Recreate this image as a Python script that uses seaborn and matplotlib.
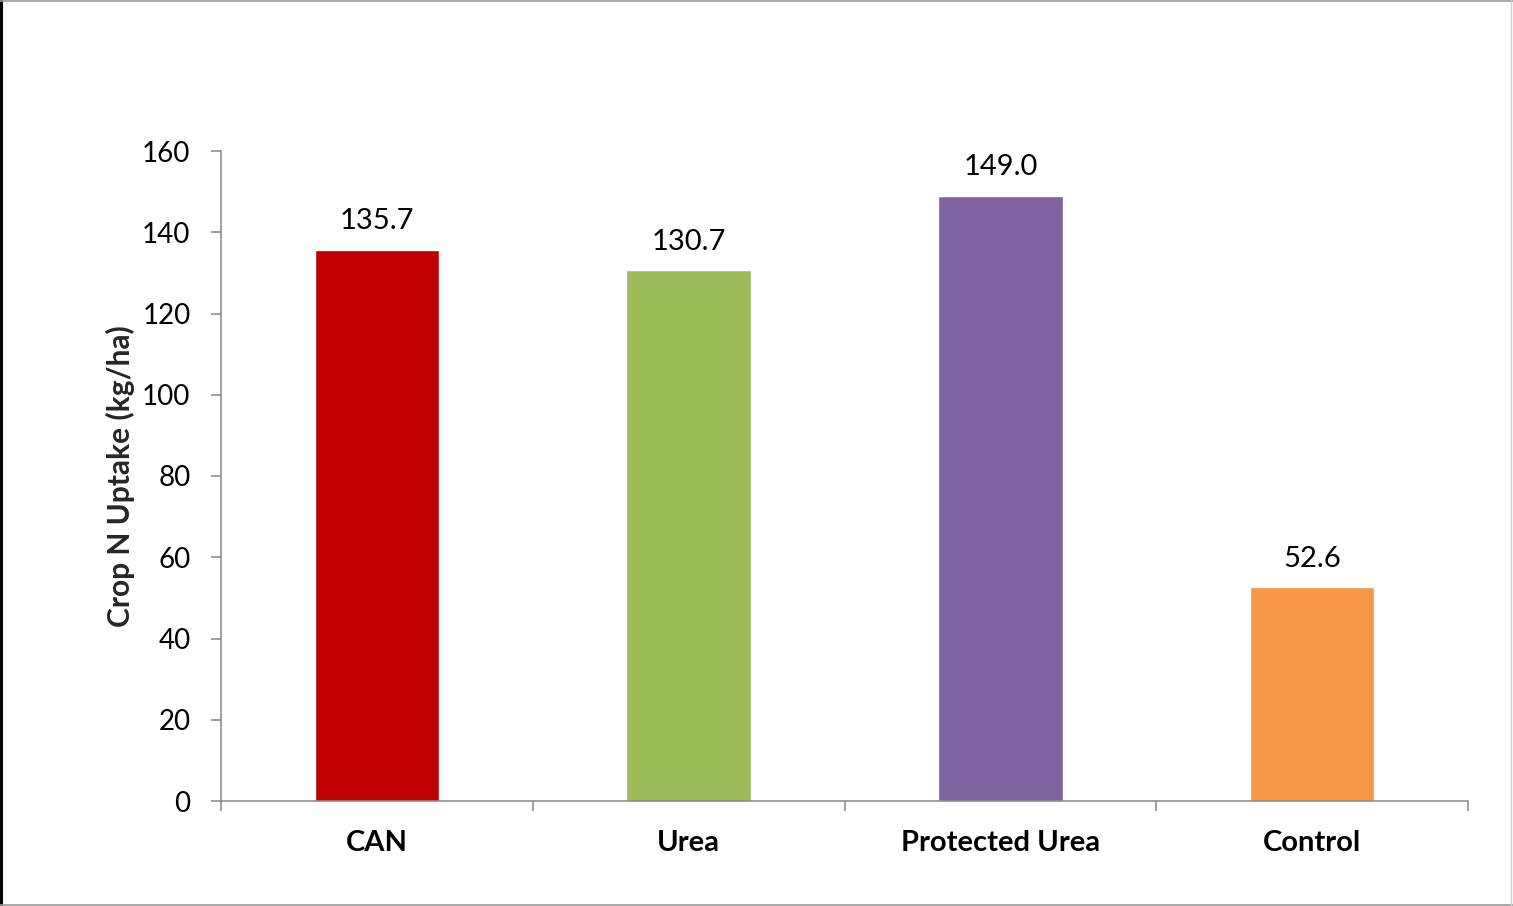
import matplotlib
matplotlib.use("Agg")
import matplotlib.pyplot as plt
import seaborn as sns
import pandas as pd
from matplotlib.lines import Line2D

# Crop N uptake by fertiliser treatment
treatments = ["CAN", "Urea", "Protected Urea", "Control"]
uptake = [135.7, 130.7, 149.0, 52.6]
bar_colors = ["#C00000", "#9BBB59", "#8064A2", "#F79646"]
y_ticks = [0, 20, 40, 60, 80, 100, 120, 140, 160]

sns.set_theme(style="white")
plt.rcParams["font.family"] = ["Lato", "DejaVu Sans"]

df = pd.DataFrame({"treatment": treatments, "uptake": uptake})

fig = plt.figure(figsize=(15.13, 9.06), dpi=100)
ax = fig.add_axes([221 / 1513, 1 - 801 / 906, (1468 - 221) / 1513, (801 - 151) / 906])

sns.barplot(data=df, x="treatment", y="uptake", hue="treatment",
            palette=bar_colors, width=0.4, saturation=1, legend=False, ax=ax)

axis_gray = "#868686"
ax.set_ylim(0, 160)
ax.set_xlim(-0.5, len(treatments) - 0.5)
ax.set_yticks(y_ticks)
ax.set_yticklabels([str(v) for v in y_ticks], fontsize=20)
ax.set_xticks(range(len(treatments)))
ax.set_xticklabels(treatments, fontsize=21, fontweight="bold")
ax.set_xticks([i - 0.5 for i in range(len(treatments) + 1)], minor=True)
ax.tick_params(axis="x", which="major", bottom=True, length=0, pad=21, labelcolor="black")
ax.tick_params(axis="x", which="minor", bottom=True, length=7, width=1.1,
               color=axis_gray, direction="out")
ax.tick_params(axis="y", which="major", left=True, length=7, width=1.1, color=axis_gray,
               direction="out", pad=15, labelcolor="black")

for side in ["top", "right"]:
    ax.spines[side].set_visible(False)
for side in ["left", "bottom"]:
    ax.spines[side].set_color(axis_gray)
    ax.spines[side].set_linewidth(1.1)

ax.set_xlabel("")
ax.set_ylabel("Crop N Uptake (kg/ha)", fontsize=21.5, fontweight="bold")
ax.yaxis.set_label_coords(-0.0686, 0.5)

# value labels above the bars
for container in ax.containers:
    ax.bar_label(container, fmt="%.1f", padding=11, fontsize=21, color="black")

# outer chart border
fig.add_artist(Line2D([0.5 / 1513, 0.5 / 1513], [0, 1], transform=fig.transFigure,
                      color="black", linewidth=2.2))
fig.add_artist(Line2D([0, 1], [1 - 0.5 / 906, 1 - 0.5 / 906], transform=fig.transFigure,
                      color="#9a9a9a", linewidth=1.2))
fig.add_artist(Line2D([0, 1], [1.5 / 906, 1.5 / 906], transform=fig.transFigure,
                      color="#9a9a9a", linewidth=1.2))
fig.add_artist(Line2D([1 - 2 / 1513, 1 - 2 / 1513], [0, 1], transform=fig.transFigure,
                      color="#d0d0d0", linewidth=1.0))

fig.savefig("out.png", dpi=100, facecolor="white")
